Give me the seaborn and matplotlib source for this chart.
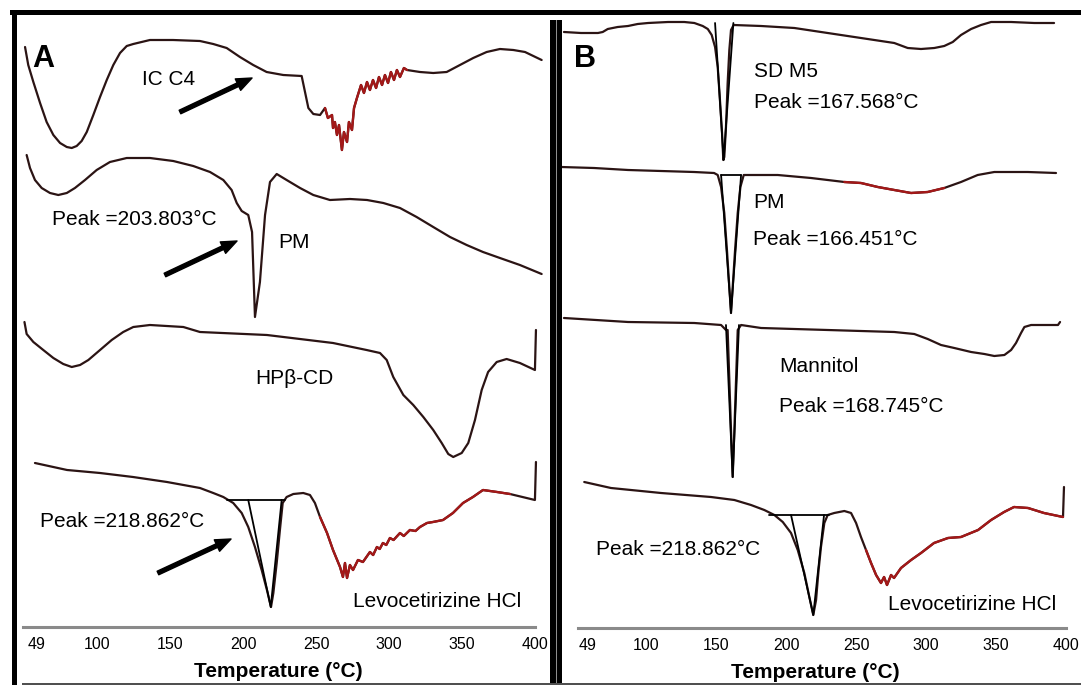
import matplotlib
matplotlib.use("Agg")
import matplotlib.pyplot as plt
from matplotlib.patches import Rectangle
import seaborn as sns

W, H = 1081, 685

sns.set_theme(style="white")
plt.rcParams["font.family"] = ["Liberation Sans", "DejaVu Sans"]
plt.rcParams["text.color"] = "black"
plt.rcParams["axes.labelcolor"] = "black"

# ---------------- panel A : heat flow (a.u., endo down) vs temperature ----------------
ic_c4_T = [50.4, 52.6, 56.1, 60.7, 65.2, 69.8, 74.4, 79.0, 82.4, 85.8, 89.2, 92.7, 97.2,
           101.8, 106.4, 110.9, 115.5, 120.1, 124.6, 136.0, 151.8, 170.3, 179.4, 188.6,
           197.7, 206.8, 216.0, 227.4, 240.0, 242.3, 244.6, 248.0, 252.6, 256.0, 258.0,
           260.8, 261.5, 262.8, 264.2, 265.6, 267.6, 269.0, 271.1, 272.4, 274.5, 275.9,
           277.9, 280.7, 282.7, 284.8, 286.8, 288.9, 291.0, 293.0, 295.1, 297.1, 299.2,
           301.2, 303.3, 305.3, 307.4, 310.1, 312.2, 321.1, 330.2, 339.4, 348.5, 357.6,
           366.8, 375.9, 385.1, 393.1, 404.5]
ic_c4_hf = [580, 562, 545, 524, 505, 492, 484, 480, 479, 481, 486, 495, 512,
            530, 547, 562, 574, 581, 583, 587, 587, 586, 583, 579,
            570, 562, 555, 552, 551, 535, 519, 513, 512, 519, 509,
            512, 499, 505, 492, 502, 477, 495, 485, 505, 497, 519,
            529, 542, 534, 545, 537, 547, 539, 550, 542, 552, 544,
            555, 547, 557, 550, 559, 557, 555, 554, 555, 562, 569,
            575, 578, 577, 575, 567]

pm_a_T = [51.5, 53.8, 57.2, 61.8, 67.5, 73.2, 79.0, 84.6, 91.5, 99.5, 108.6, 120.1, 136.0,
          152.0, 165.7, 177.2, 186.3, 192.0, 195.5, 198.9, 203.4, 206.0, 208.0, 211.4,
          214.9, 218.3, 222.9, 229.7, 238.9, 248.0, 259.4, 273.1, 284.8, 296.0, 307.4,
          318.8, 330.2, 341.7, 353.1, 364.3, 375.9, 389.6, 404.5]
pm_a_hf = [472, 459, 447, 439, 434, 432, 434, 439, 447, 457, 465, 469, 469,
           466, 461, 455, 447, 437, 424, 416, 412, 395, 310, 345,
           412, 445, 453, 447, 439, 432, 427, 428, 427, 424, 419,
           410, 400, 390, 382, 375, 369, 362, 353]

hpbcd_T = [50.0, 51.5, 56.1, 62.9, 69.8, 76.6, 82.4, 88.1, 93.8, 101.8, 109.8, 117.7,
           124.6, 136.0, 158.9, 170.3, 216.2, 261.5, 284.5, 293.7, 298.3, 302.8, 309.7,
           316.5, 323.4, 330.2, 336.0, 340.5, 343.9, 349.7, 354.2, 358.8, 363.4, 367.8,
           373.7, 380.5, 389.6, 399.9, 400.6]
hpbcd_hf = [305, 293, 285, 277, 269, 263, 260, 262, 267, 277, 287, 295,
            300, 302, 300, 295, 292, 284, 277, 274, 267, 250, 232,
            222, 210, 197, 184, 173, 170, 174, 184, 207, 237, 255,
            265, 268, 264, 257, 297]

levo_a_T = [57.2, 79.2, 101.8, 124.4, 147.7, 170.3, 179.4, 186.3, 193.1, 198.9, 203.4,
            208.0, 212.6, 216.2, 219.0, 220.6, 222.9, 225.1, 227.0, 229.7, 234.3, 241.1,
            245.7, 249.1, 252.6, 257.4, 261.5, 266.3, 268.3, 269.7, 271.1, 273.1, 275.2,
            278.6, 282.0, 286.8, 289.0, 291.6, 293.5, 295.7, 298.0, 300.5, 303.0, 307.4,
            310.0, 314.2, 318.0, 321.1, 325.9, 330.0, 336.9, 343.7, 350.6, 357.4, 364.3,
            373.9, 382.8, 399.9, 400.6]
levo_a_hf = [164, 157, 154, 150, 145, 139, 134, 130, 124, 114, 100,
             80, 57, 37, 20, 34, 64, 97, 124, 130, 133, 134,
             132, 124, 110, 94, 77, 60, 50, 64, 49, 62, 57,
             67, 65, 75, 72, 80, 78, 84, 82, 89, 87, 94,
             91, 97, 96, 100, 104, 105, 107, 114, 124, 130, 137,
             135, 133, 127, 165]

# peak integration construction (Levocetirizine, panel A)
levo_a_base_T = [188.8, 228.6]
levo_a_base_hf = [127, 127]
levo_a_tri_T = [203.4, 218.8, 226.3]
levo_a_tri_hf = [127, 20, 127]

# ---------------- panel B ----------------
sdm5_T = [41.1, 53.3, 65.4, 68.8, 72.4, 79.5, 86.9, 93.8, 101.2, 115.5, 127.1, 134.3,
          140.3, 143.9, 146.7, 149.1, 151.0, 152.6, 154.1, 155.0, 155.7, 156.9, 158.1,
          159.3, 160.5, 162.4, 182.0, 205.8, 229.6, 253.4, 277.2, 286.8, 296.3, 305.8,
          312.9, 319.0, 324.9, 332.1, 339.2, 346.4, 360.7, 377.3, 391.4]
sdm5_hf = [596, 595, 595, 596, 599, 601, 602, 604, 605, 606, 606, 605,
           602, 599, 593, 581, 561, 528, 495, 468, 471, 501, 545,
           578, 598, 603, 602, 600, 595, 590, 585, 580, 579, 580,
           582, 586, 593, 599, 603, 606, 606, 605, 605]

pm_b_T = [39.0, 62.6, 86.9, 110.5, 134.1, 148.4, 151.0, 153.4, 155.7, 157.6, 159.3, 160.5,
          161.7, 163.4, 165.3, 167.2, 169.6, 193.9, 217.7, 241.5, 253.4, 265.4, 277.2,
          289.2, 301.1, 312.9, 324.9, 336.8, 348.7, 372.6, 392.8]
pm_b_hf = [461, 460, 458, 457, 456, 455, 453, 441, 415, 378, 341, 315,
           341, 378, 415, 441, 453, 453, 450, 446, 445, 441, 438,
           435, 436, 440, 446, 453, 456, 456, 455]

mannitol_T = [41.1, 86.9, 134.3, 153.4, 156.9, 158.1, 159.3, 160.5, 161.7, 162.9, 164.1,
              165.3, 167.7, 182.0, 229.6, 277.2, 291.5, 301.1, 310.6, 320.1, 332.1, 341.6,
              348.7, 355.9, 360.7, 364.2, 367.8, 370.2, 375.0, 394.2, 395.7]
mannitol_hf = [310, 306, 305, 303, 298, 298, 248, 198, 151, 198, 248,
               298, 303, 300, 298, 296, 294, 289, 283, 280, 276, 274,
               272, 273, 278, 285, 295, 301, 303, 303, 306]

levo_b_T = [55.6, 74.7, 110.5, 146.2, 162.9, 174.8, 184.3, 191.5, 197.5, 203.4, 208.2,
            212.9, 216.5, 219.3, 221.3, 222.9, 224.8, 227.2, 229.6, 234.3, 241.5, 246.3,
            249.9, 253.4, 257.0, 260.6, 264.2, 267.7, 269.9, 272.0, 274.9, 277.0, 282.0,
            289.2, 296.3, 305.6, 315.6, 324.9, 337.1, 346.4, 355.7, 362.8, 372.8, 384.2,
            397.8, 398.5]
levo_b_hf = [146, 140, 135, 131, 128, 123, 118, 113, 106, 95, 78,
             55, 31, 13, 28, 55, 81, 105, 113, 115, 117, 115,
             105, 91, 78, 65, 53, 45, 51, 43, 53, 50, 60,
             68, 75, 85, 90, 91, 98, 108, 116, 121, 120, 115,
             111, 141]

sdm5_v_T = [149.1, 155.2, 162.2]
sdm5_v_hf = [605, 468, 605]
pm_b_v_T = [153.4, 160.5, 167.7]
pm_b_v_hf = [453, 315, 453]
pm_b_bar_T = [153.4, 167.7]
pm_b_bar_hf = [453, 453]
mannitol_v_T = [156.9, 161.7, 166.2]
mannitol_v_hf = [303, 151, 303]
levo_b_base_T = [187.7, 230.6]
levo_b_base_hf = [113, 113]
levo_b_tri_T = [203.4, 219.3, 227.0]
levo_b_tri_hf = [113, 13, 113]

tick_pos = [58, 100, 150, 200, 250, 300, 350, 400]
tick_lab = ["49", "100", "150", "200", "250", "300", "350", "400"]

LINE = "#2b1414"
NOISE = "#a31818"

fig = plt.figure(figsize=(W / 100, H / 100), dpi=100)


def box(x0, y0, x1, y1, color):
    # pixel box (top-left origin) -> figure rectangle
    fig.add_artist(Rectangle((x0 / W, 1 - y1 / H), (x1 - x0) / W, (y1 - y0) / H,
                             transform=fig.transFigure, color=color, lw=0, zorder=5))


def trace(ax, T, hf, noisy=None):
    sns.lineplot(x=T, y=hf, ax=ax, sort=False, estimator=None, color=LINE, lw=1.6)
    if noisy:
        idx = [i for i, t in enumerate(T) if noisy[0] <= t <= noisy[1]]
        sns.lineplot(x=[T[i] for i in idx], y=[hf[i] for i in idx], ax=ax,
                     sort=False, estimator=None, color=NOISE, lw=1.7)


def thin(ax, T, hf):
    sns.lineplot(x=T, y=hf, ax=ax, sort=False, estimator=None, color="black", lw=1.3)


def arrow(ax, tail, head):
    ax.annotate("", xy=head, xytext=tail,
                arrowprops=dict(arrowstyle="simple,head_length=0.8,head_width=0.65,tail_width=0.2",
                                color="black", mutation_scale=14, shrinkA=0, shrinkB=0))


def style(ax, lo, hi, xlim, ylim, label_x):
    ax.set_facecolor("none")
    ax.set_xlim(*xlim)
    ax.set_ylim(*ylim)
    for s in ["left", "top", "right"]:
        ax.spines[s].set_visible(False)
    ax.spines["bottom"].set_color("#8a8a8a")
    ax.spines["bottom"].set_linewidth(2.2)
    ax.spines["bottom"].set_bounds(lo, hi)
    ax.set_yticks([])
    ax.set_xticks(tick_pos)
    ax.set_xticklabels(tick_lab)
    ax.tick_params(axis="x", direction="inout", length=4, width=1.2, color="#555555",
                   labelsize=11.5, pad=5, labelcolor="black")
    ax.set_xlabel("Temperature (°C)", fontsize=15, fontweight="bold", color="black")
    ax.xaxis.set_label_coords(label_x, -0.058)
    ax.set_ylabel("")


# ---------------- panel A ----------------
ax_a = fig.add_axes([23 / W, 58 / H, 522 / W, 611 / H])
trace(ax_a, ic_c4_T, ic_c4_hf, noisy=(256, 313))
trace(ax_a, pm_a_T, pm_a_hf)
trace(ax_a, hpbcd_T, hpbcd_hf)
trace(ax_a, levo_a_T, levo_a_hf, noisy=(252, 390))
thin(ax_a, levo_a_base_T, levo_a_base_hf)
thin(ax_a, levo_a_tri_T, levo_a_tri_hf)
style(ax_a, 49, 400, (49, 406.8), (0, 611), 0.49)

ax_a.text(55.2, 560, "A", fontsize=22, fontweight="bold", va="baseline")
ax_a.text(130.6, 542, "IC C4", fontsize=15, va="baseline")
ax_a.text(68.9, 402, "Peak =203.803°C", fontsize=15, va="baseline")
ax_a.text(223.8, 379, "PM", fontsize=15, va="baseline")
ax_a.text(208.0, 243, "HPβ-CD", fontsize=15, va="baseline")
ax_a.text(60.7, 100, "Peak =218.862°C", fontsize=15, va="baseline")
ax_a.text(275.2, 20, "Levocetirizine HCl", fontsize=15, va="baseline")
arrow(ax_a, (156.6, 515), (206.0, 549))
arrow(ax_a, (146.3, 352), (195.7, 386))
arrow(ax_a, (141.5, 54), (191.6, 88))

# ---------------- panel B ----------------
ax_b = fig.add_axes([562 / W, 57 / H, 508 / W, 612 / H])
trace(ax_b, sdm5_T, sdm5_hf)
trace(ax_b, pm_b_T, pm_b_hf, noisy=(240, 315))
trace(ax_b, mannitol_T, mannitol_hf)
trace(ax_b, levo_b_T, levo_b_hf, noisy=(255, 398))
thin(ax_b, sdm5_v_T, sdm5_v_hf)
thin(ax_b, pm_b_v_T, pm_b_v_hf)
thin(ax_b, pm_b_bar_T, pm_b_bar_hf)
thin(ax_b, mannitol_v_T, mannitol_v_hf)
thin(ax_b, levo_b_base_T, levo_b_base_hf)
thin(ax_b, levo_b_tri_T, levo_b_tri_hf)
style(ax_b, 51, 400, (39.7, 402.8), (0, 612), 0.498)

ax_b.text(48.3, 561, "B", fontsize=22, fontweight="bold", va="baseline")
ax_b.text(176.9, 551, "SD M5", fontsize=15, va="baseline")
ax_b.text(176.9, 520, "Peak =167.568°C", fontsize=15, va="baseline")
ax_b.text(176.2, 420, "PM", fontsize=15, va="baseline")
ax_b.text(176.2, 383, "Peak =166.451°C", fontsize=15, va="baseline")
ax_b.text(194.8, 256, "Mannitol", fontsize=15, va="baseline")
ax_b.text(194.8, 216, "Peak =168.745°C", fontsize=15, va="baseline")
ax_b.text(64.0, 73, "Peak =218.862°C", fontsize=15, va="baseline")
ax_b.text(272.7, 18, "Levocetirizine HCl", fontsize=15, va="baseline")

# ---------------- frame ----------------
box(10, 10, 1081, 15, "black")
box(12, 10, 17, 685, "black")
box(550, 20, 562, 685, "black")
box(555.5, 20, 557, 685, "#8f8f8f")
box(22, 682.5, 1081, 684.5, "#505050")

fig.savefig("out.png", dpi=100, facecolor="white")
